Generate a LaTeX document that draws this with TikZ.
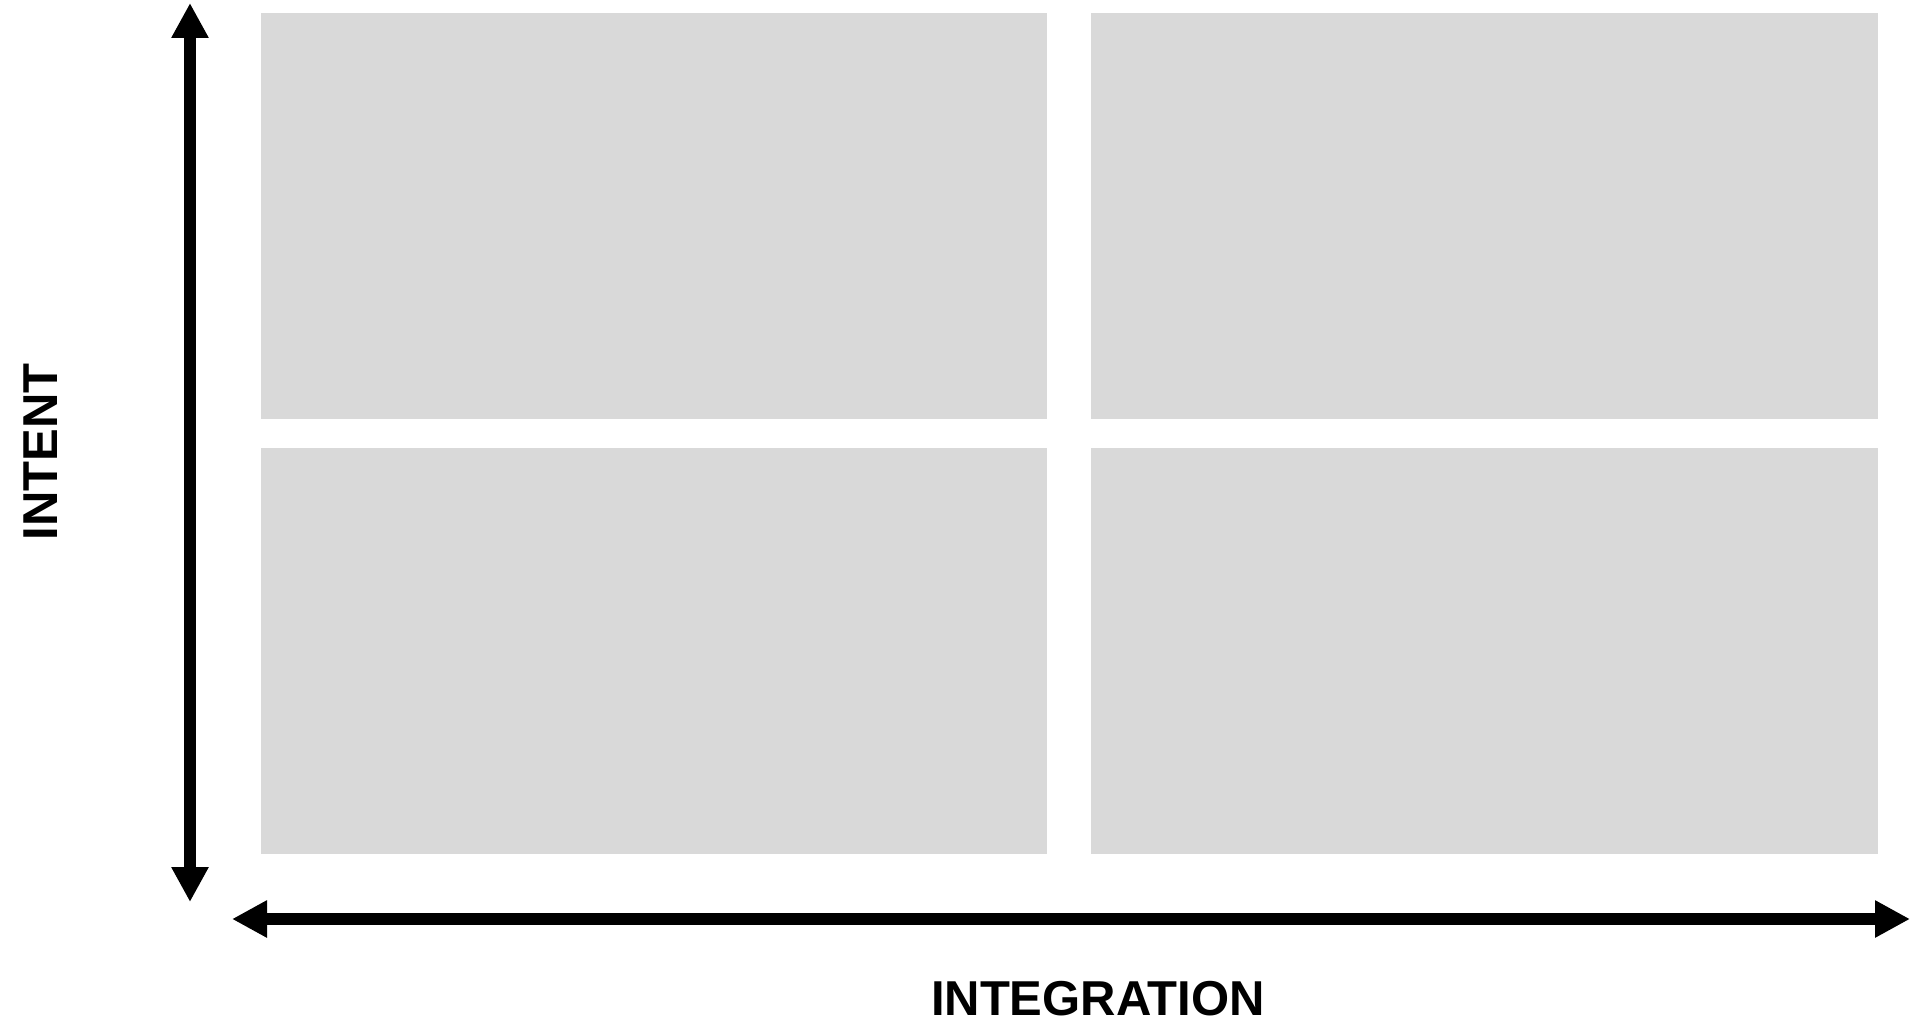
\documentclass[tikz,border=0pt]{standalone}
\usepackage{fontspec}
\setmainfont{Liberation Sans}
\usetikzlibrary{arrows.meta}
\definecolor{boxgray}{HTML}{D9D9D9}
\begin{document}
\begin{tikzpicture}[x=1pt,y=-1pt,
  quad/.style={fill=boxgray,draw=none},
  axis/.style={line width=12pt,{Triangle[length=35pt,width=35pt]}-{Triangle[length=35pt,width=35pt]}},
  axislabel/.style={inner sep=0pt,anchor=base,font=\fontsize{49}{49}\selectfont\bfseries}]
\useasboundingbox (0,0) rectangle (1911,1022);
\fill[quad] (261,13) rectangle (1047,419);
\fill[quad] (1091,13) rectangle (1878,419);
\fill[quad] (261,448) rectangle (1047,854);
\fill[quad] (1091,448) rectangle (1878,854);
\coordinate (vtop) at (190,3);
\coordinate (vbot) at (190,902);
\coordinate (hleft) at (232,919);
\coordinate (hright) at (1910,919);
\draw[axis] (vbot) -- (vtop);
\draw[axis] (hleft) -- (hright);
\node[axislabel,rotate=90] (intent) at (57,452) {INTENT};
\node[axislabel] (integration) at (1098,1015) {INTEGRATION};
\end{tikzpicture}
\end{document}
